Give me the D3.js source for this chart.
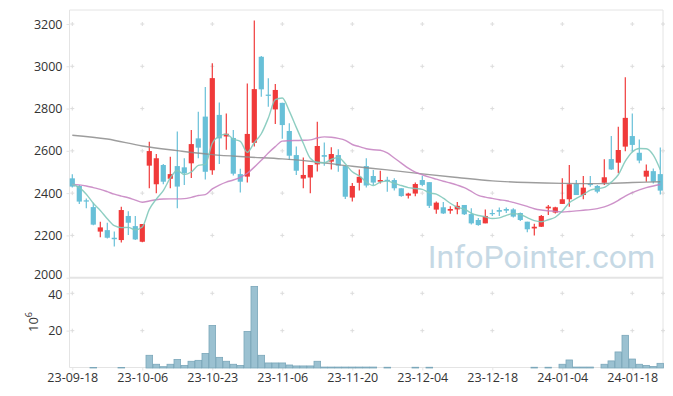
<!DOCTYPE html>
<html>
<head>
<meta charset="utf-8">
<script src="https://cdn.jsdelivr.net/npm/d3@7"></script>
<style>
  body{margin:0;background:#fff;}
  text{font-family:"Open Sans",sans-serif;}
</style>
</head>
<body>
<svg width="673" height="396"></svg>
<script>
// trading days, shown as yy-mm-dd
const dates=["23-09-18","23-09-19","23-09-20","23-09-21","23-09-22","23-09-25","23-09-26","23-09-27","23-10-04","23-10-05",
"23-10-06","23-10-10","23-10-11","23-10-12","23-10-13","23-10-16","23-10-17","23-10-18","23-10-19","23-10-20",
"23-10-23","23-10-24","23-10-25","23-10-26","23-10-27","23-10-30","23-10-31","23-11-01","23-11-02","23-11-03",
"23-11-06","23-11-07","23-11-08","23-11-09","23-11-10","23-11-13","23-11-14","23-11-15","23-11-16","23-11-17",
"23-11-20","23-11-21","23-11-22","23-11-23","23-11-24","23-11-27","23-11-28","23-11-29","23-11-30","23-12-01",
"23-12-04","23-12-05","23-12-06","23-12-07","23-12-08","23-12-11","23-12-12","23-12-13","23-12-14","23-12-15",
"23-12-18","23-12-19","23-12-20","23-12-21","23-12-22","23-12-26","23-12-27","23-12-28","24-01-02","24-01-03",
"24-01-04","24-01-05","24-01-08","24-01-09","24-01-10","24-01-11","24-01-12","24-01-15","24-01-16","24-01-17",
"24-01-18","24-01-19","24-01-22","24-01-23","24-01-24"];

const open=[2470,2434,2366,2334,2218,2225,2189,2178,2292,2244,2170,2530,2442,2533,2468,2528,2522,2541,2659,2762,
2508,2770,2668,2661,2490,2478,2638,3045,2866,2796,2827,2694,2580,2469,2474,2536,2580,2549,2580,2528,
2379,2449,2528,2481,2454,2463,2462,2423,2388,2398,2462,2452,2322,2333,2317,2323,2344,2301,2273,2257,
2306,2320,2325,2323,2306,2265,2233,2241,2328,2308,2349,2371,2443,2391,2446,2434,2449,2561,2544,2620,
2670,2591,2478,2504,2490];
const high=[2489,2438,2375,2355,2265,2260,2218,2336,2314,2292,2254,2643,2585,2538,2572,2691,2565,2699,2785,2902,
3014,2829,2777,2699,2515,2919,3216,3049,2943,2916,2827,2730,2620,2569,2533,2738,2639,2617,2607,2528,
2448,2512,2565,2509,2506,2478,2470,2423,2402,2450,2482,2452,2361,2358,2338,2358,2344,2328,2282,2323,
2323,2332,2332,2328,2308,2265,2255,2296,2344,2336,2470,2533,2462,2481,2481,2438,2560,2670,2714,2948,
2777,2654,2536,2517,2616];
const low=[2427,2349,2328,2248,2191,2186,2147,2167,2202,2178,2168,2423,2399,2442,2423,2328,2438,2472,2565,2465,
2487,2538,2605,2483,2403,2450,2620,2856,2809,2727,2657,2557,2486,2423,2399,2502,2530,2512,2501,2372,
2360,2413,2427,2438,2446,2407,2412,2383,2375,2385,2433,2330,2302,2301,2302,2300,2296,2252,2246,2257,
2292,2292,2306,2285,2268,2215,2200,2240,2296,2304,2349,2336,2391,2371,2430,2399,2438,2509,2494,2598,
2596,2541,2454,2446,2394];
const close=[2431,2360,2360,2251,2238,2189,2182,2320,2260,2181,2254,2599,2565,2454,2490,2431,2494,2632,2615,2501,
2944,2659,2681,2492,2454,2680,2892,2891,2860,2888,2722,2577,2506,2486,2533,2623,2572,2585,2530,2383,
2434,2477,2436,2450,2462,2459,2423,2386,2398,2443,2439,2340,2355,2304,2325,2340,2300,2257,2249,2292,
2303,2312,2317,2289,2273,2229,2241,2292,2336,2333,2371,2442,2391,2426,2438,2407,2475,2512,2604,2756,
2628,2554,2506,2454,2412];
// volume, millions of shares
const volume=[0,0,0,0.25,0,0,0,0.3,0,0,0,6.8,2.0,0.7,2.0,4.6,1.4,3.6,4.1,7.8,
22.8,5.7,3.6,2.0,1.4,19.6,43.7,6.8,2.7,2.7,2.7,1.6,1.1,1.1,1.1,3.6,0.5,0.5,0.5,0.5,
0.5,0.5,0.5,0.5,0,0.4,0,0,0,0.4,0,0.4,0,0,0,0,0,0,0,0,
0,0,0,0,0,0,0.4,0,0.4,0,2.0,4.3,0.5,0.5,0.5,0,2.0,3.8,8.6,17.5,
4.8,2.0,1.4,0.8,2.5];

// moving averages
const ma5=[2442,2426,2395,2352,2318,2279,2246,2237,2238,2227,2240,2323,2372,2412,2472,2507,2488,2500,2531,2536,
2636,2670,2679,2655,2645,2593,2639,2681,2755,2842,2850,2788,2711,2636,2565,2545,2544,2560,2569,2539,
2501,2482,2452,2436,2452,2457,2446,2436,2426,2422,2418,2401,2395,2376,2352,2333,2325,2305,2294,2288,
2280,2283,2295,2303,2299,2284,2270,2265,2274,2286,2315,2355,2375,2393,2414,2421,2427,2452,2487,2551,
2595,2611,2610,2580,2511];
const ma20=[2441,2439,2434,2426,2418,2407,2395,2386,2378,2367,2357,2363,2369,2372,2373,2373,2374,2380,2389,2393,
2420,2438,2452,2462,2475,2494,2523,2555,2590,2620,2646,2648,2649,2650,2652,2661,2666,2664,2659,2650,
2630,2620,2610,2605,2603,2590,2566,2542,2518,2499,2487,2476,2466,2456,2448,2438,2426,2408,2389,2381,
2375,2369,2364,2356,2347,2337,2326,2320,2317,2313,2311,2313,2316,2319,2322,2327,2335,2348,2366,2386,
2402,2415,2426,2434,2441];
const maLongIdx=[0,5,10,15,20,25,30,35,40,45,50,55,60,65,70,75,80,84];
const maLong=[2674,2656,2623,2601,2582,2571,2562,2547,2527,2510,2491,2474,2458,2450,2446,2445,2450,2454];

const priceTicks=[2000,2200,2400,2600,2800,3000,3200];
const volTicks=[20,40];
const dateTickIdx=[0,10,20,30,40,50,60,70,80];

const svg=d3.select('svg');
const plot={left:69.5,right:663,top:10,split:277.7,bottom:367.5};

const x=d3.scaleLinear().domain([0,84]).range([72.3,660.3]);
const yP=d3.scaleLinear().domain([2000,3200]).range([277.7,24]);
const yV=d3.scaleLinear().domain([0,40]).range([368,293.3]);

const red='#f03a3a', blue='#68c0d8', gridC='#dcdcdc', frameC='#e4e4e4';

/****** frame ******/
svg.append('line').attr('x1',plot.left).attr('x2',plot.right).attr('y1',plot.top).attr('y2',plot.top).attr('stroke',frameC);
svg.append('line').attr('x1',plot.left).attr('x2',plot.left).attr('y1',plot.top).attr('y2',plot.bottom).attr('stroke',frameC);
svg.append('line').attr('x1',plot.right).attr('x2',plot.right).attr('y1',plot.top).attr('y2',plot.bottom).attr('stroke',frameC);
svg.append('line').attr('x1',plot.left).attr('x2',plot.right).attr('y1',plot.split).attr('y2',plot.split).attr('stroke',frameC).attr('stroke-width',2);
svg.append('line').attr('x1',plot.left).attr('x2',plot.right).attr('y1',plot.bottom).attr('y2',plot.bottom).attr('stroke',frameC);

/****** grid crosses ******/
const cross=(g,cx,cy)=>{
  g.append('line').attr('x1',cx-2).attr('x2',cx+2).attr('y1',cy).attr('y2',cy).attr('stroke',gridC);
  g.append('line').attr('x1',cx).attr('x2',cx).attr('y1',cy-2).attr('y2',cy+2).attr('stroke',gridC);
};
const grid=svg.append('g');
dateTickIdx.forEach(i=>{
  priceTicks.slice(1).forEach(v=>cross(grid,x(i),yP(v)));
  volTicks.forEach(v=>cross(grid,x(i),yV(v)));
});
priceTicks.slice(1).forEach(v=>cross(grid,plot.right,yP(v)));
volTicks.forEach(v=>cross(grid,plot.right,yV(v)));

/****** axes ******/
const axP=svg.append('g').attr('transform',`translate(${plot.left},0)`)
  .call(d3.axisLeft(yP).tickValues(priceTicks).tickSize(3).tickPadding(4).tickFormat(d3.format('d')));
const axV=svg.append('g').attr('transform',`translate(${plot.left},0)`)
  .call(d3.axisLeft(yV).tickValues(volTicks).tickSize(3).tickPadding(4));
const axX=svg.append('g').attr('transform',`translate(0,${plot.bottom})`)
  .call(d3.axisBottom(x).tickValues(dateTickIdx).tickSize(3).tickPadding(3).tickFormat(i=>dates[i]));
[axP,axV,axX].forEach(a=>{
  a.select('.domain').remove();
  a.selectAll('line').attr('stroke',frameC);
  a.selectAll('text').attr('fill','#333').style('font-size','12.5px').style('font-family','"Open Sans",sans-serif');
});
// keep the bottom price label clear of the top volume label
axP.selectAll('text').filter(d=>d===2000).attr('dy','0.1em');
axV.selectAll('text').filter(d=>d===40).attr('dy','0.42em');

svg.append('text')
  .attr('transform','translate(38,322) rotate(-90)')
  .attr('text-anchor','middle').attr('fill','#333').style('font-size','13px')
  .html('10<tspan dy="-6" font-size="9">6</tspan>');

/****** watermark ******/
svg.append('text').attr('x',655).attr('y',268).attr('text-anchor','end')
  .attr('fill','#c6d9e5').style('font-family','Roboto,sans-serif').style('font-size','32px').text('InfoPointer.com');

/****** volume ******/
svg.append('g').selectAll('rect').data(volume.map((v,i)=>({v,i})).filter(d=>d.v>0)).enter().append('rect')
  .attr('x',d=>x(d.i)-3.3)
  .attr('width',6.6)
  .attr('y',d=>yV(d.v))
  .attr('height',d=>yV(0)-yV(d.v))
  .attr('fill','#9bc1d1')
  .attr('stroke','#7ba7ba')
  .attr('stroke-width',0.8);

/****** candles ******/
const candles=svg.append('g').selectAll('g').data(dates).enter().append('g');
candles.append('line')
  .attr('x1',(d,i)=>x(i)).attr('x2',(d,i)=>x(i))
  .attr('y1',(d,i)=>yP(high[i])).attr('y2',(d,i)=>yP(low[i]))
  .attr('stroke',(d,i)=>close[i]>=open[i]?red:blue).attr('stroke-width',1.2);
candles.append('rect')
  .attr('x',(d,i)=>x(i)-2.6).attr('width',5.2)
  .attr('y',(d,i)=>yP(Math.max(open[i],close[i])))
  .attr('height',(d,i)=>Math.max(1.2,Math.abs(yP(open[i])-yP(close[i]))))
  .attr('fill',(d,i)=>close[i]>=open[i]?red:blue);

/****** moving averages ******/
const lineIdx=d3.line().x((d,i)=>x(i)).y(d=>yP(d)).curve(d3.curveMonotoneX);
svg.append('path').datum(maLong)
  .attr('d',d3.line().x((d,i)=>x(maLongIdx[i])).y(d=>yP(d)).curve(d3.curveMonotoneX))
  .attr('fill','none').attr('stroke','#8c8c8c').attr('stroke-width',1.4).attr('opacity',0.85);
svg.append('path').datum(ma20).attr('d',lineIdx)
  .attr('fill','none').attr('stroke','#c47fbf').attr('stroke-width',1.4).attr('opacity',0.85);
svg.append('path').datum(ma5).attr('d',lineIdx)
  .attr('fill','none').attr('stroke','#82c9bb').attr('stroke-width',1.4).attr('opacity',0.9);
</script>
</body>
</html>
